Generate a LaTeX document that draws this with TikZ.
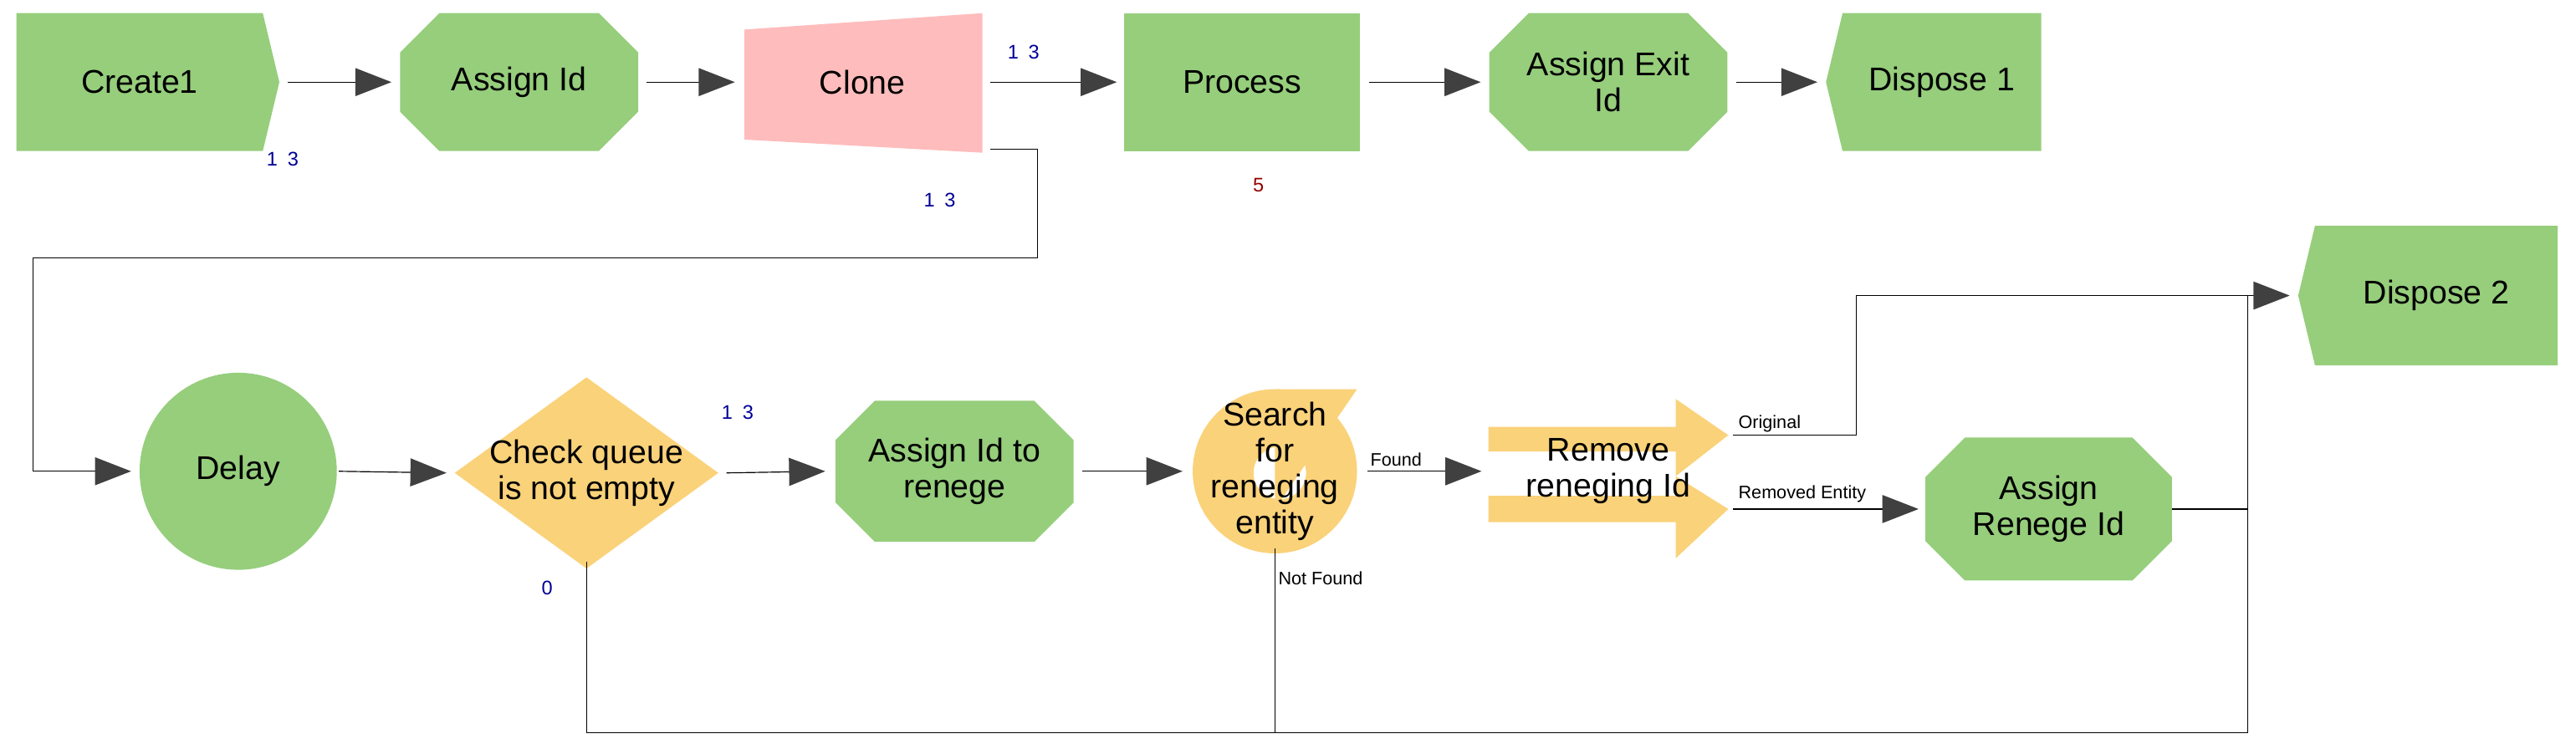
\documentclass[tikz,border=0pt]{standalone}
\usepackage{fontspec}
\setmainfont{Liberation Sans}
\usetikzlibrary{shapes.geometric, shapes.misc, shapes.symbols, positioning, arrows.meta}

\definecolor{modgreen}{RGB}{150,206,124}
\definecolor{modpink}{RGB}{255,188,188}
\definecolor{modyellow}{RGB}{250,210,122}
\definecolor{tipgray}{RGB}{64,64,64}
\definecolor{cntblue}{RGB}{0,0,150}
\definecolor{cntred}{RGB}{150,0,0}

\tikzset{
  blk/.style={inner sep=0pt, align=center, font=\fontsize{20}{22}\selectfont},
  octa/.style={blk, chamfered rectangle, chamfered rectangle xsep=8pt,
    chamfered rectangle ysep=16pt, fill=modgreen, minimum width=145pt, minimum height=84pt},
  flow/.style={line width=0.6pt, -{Triangle[length=22pt,width=17pt,fill=tipgray,color=tipgray]}},
  link/.style={line width=0.6pt},
  cnt/.style={font=\fontsize{12}{12}\selectfont, text=cntblue, inner sep=0pt},
  lbl/.style={font=\fontsize{11}{12}\selectfont, inner sep=0pt}
}

\begin{document}
\begin{tikzpicture}[x=1pt,y=-1pt]
    \useasboundingbox (0,0) rectangle (1568,456);

    % Top row
    \node[blk, signal, signal to=east, signal pointer angle=153, fill=modgreen,
      minimum width=160pt, minimum height=84pt] (create) at (85,50) {Create1};
    \node[octa] (assignId) at (316,50) {Assign Id};
    \fill[modpink] (453,18) -- (598,8) -- (598,93) -- (453,85) -- cycle;
    \node[blk, minimum width=145pt, minimum height=85pt] (clone) at (525,50) {Clone};
    \node[blk, fill=modgreen, minimum width=144pt, minimum height=84pt] (process) at (756,50) {Process};
    \node[octa] (assignExit) at (979,50) {Assign Exit\\Id};
    \node[blk, signal, signal to=west, signal pointer angle=153, fill=modgreen,
      minimum width=131pt, minimum height=84pt] (dispose1) at (1182,50) {Dispose 1};

    % Bottom row
    \node[blk, circle, fill=modgreen, minimum size=120pt] (delay) at (145,287) {Delay};
    \node[blk, minimum width=160pt, minimum height=116pt] (checkQ) at (357,288) {};
    \fill[modyellow] (checkQ.north) -- (checkQ.east) -- (checkQ.south) -- (checkQ.west) -- cycle;
    \node[blk] at (checkQ) {Check queue\\is not empty};
    \node[octa, minimum height=86pt] (assignRen) at (581,287) {Assign Id to\\renege};
    \fill[modyellow, even odd rule] (776,287) circle (50) (779,288) circle (16);
    \fill[modyellow] (776,237) -- (826,237) -- (776,310) -- cycle;
    \node[blk, minimum size=100pt] (search) at (776,287) {Search\\for\\reneging\\entity};
    \fill[modyellow] (906,260) -- (1020,260) -- (1020,243) -- (1052,265) -- (1020,290)
      -- (1020,275) -- (906,275) -- cycle;
    \fill[modyellow] (906,302) -- (1020,302) -- (1020,290) -- (1052,310) -- (1020,340)
      -- (1020,318) -- (906,318) -- cycle;
    \node[blk, minimum width=146pt, minimum height=97pt] (removeRen) at (979,287) {Remove\\reneging Id};
    \node[octa, minimum width=150pt, minimum height=87pt] (assignRenId) at (1247,310) {Assign\\Renege Id};
    \node[blk, signal, signal to=west, signal pointer angle=153, fill=modgreen,
      minimum width=158pt, minimum height=85pt] (dispose2) at (1483,180) {Dispose 2};

    % Connectors
    \draw[flow] ([xshift=5pt]create.east) -- ([xshift=-5pt]assignId.west);
    \draw[flow] ([xshift=5pt]assignId.east) -- ([xshift=-5pt]clone.west);
    \draw[flow] ([xshift=5pt]clone.east) -- ([xshift=-4pt]process.west);
    \draw[flow] ([xshift=5pt]process.east) -- ([xshift=-5pt]assignExit.west);
    \draw[flow] ([xshift=5pt]assignExit.east) -- ([xshift=-5pt]dispose1.west);
    \coordinate (cloneTurn) at (20,157);
    \draw[flow] ([xshift=5pt,yshift=2pt]clone.south east) -- ++(29,0) |- (cloneTurn)
      |- ([xshift=-5pt]delay.west);
    \draw[flow] ([xshift=1pt]delay.east) -- ([xshift=-5pt]checkQ.west);
    \draw[flow] ([xshift=5pt]checkQ.east) -- ([xshift=-6pt]assignRen.west);
    \draw[flow] ([xshift=5pt]assignRen.east) -- ([xshift=-6pt]search.west);
    \draw[flow] ([xshift=6pt]search.east) -- ([xshift=-4pt]removeRen.west);
    \coordinate (origOut) at (1055,265);
    \coordinate (remOut) at (1055,310);
    \coordinate (merge) at (1368,180);
    \coordinate (bus) at (1368,446);
    \draw[flow] (origOut) -- ++(75,0) |- ([xshift=-5pt]dispose2.west);
    \draw[flow] (remOut) -- ([xshift=-4pt]assignRenId.west);
    \draw[link] (assignRenId.east) -| (merge);
    \draw[link] ([yshift=4pt]checkQ.south) |- (bus) -- (merge);
    \draw[link] ([yshift=3pt]search.south) -- (search.south |- bus);

    % Counters and labels
    \node[cnt] at (172,97) {1\hspace{6pt}3};
    \node[cnt] at (623,32) {1\hspace{6pt}3};
    \node[cnt] at (572,122) {1\hspace{6pt}3};
    \node[cnt, text=cntred] at (766,113) {5};
    \node[cnt] at (449,251) {1\hspace{6pt}3};
    \node[cnt] at (333,358) {0};
    \node[lbl, anchor=west] at (834,280) {Found};
    \node[lbl, anchor=west] at (778,352) {Not Found};
    \node[lbl, anchor=west] at (1058,258) {Original};
    \node[lbl, anchor=west] at (1058,301) {Removed Entity};
\end{tikzpicture}
\end{document}
